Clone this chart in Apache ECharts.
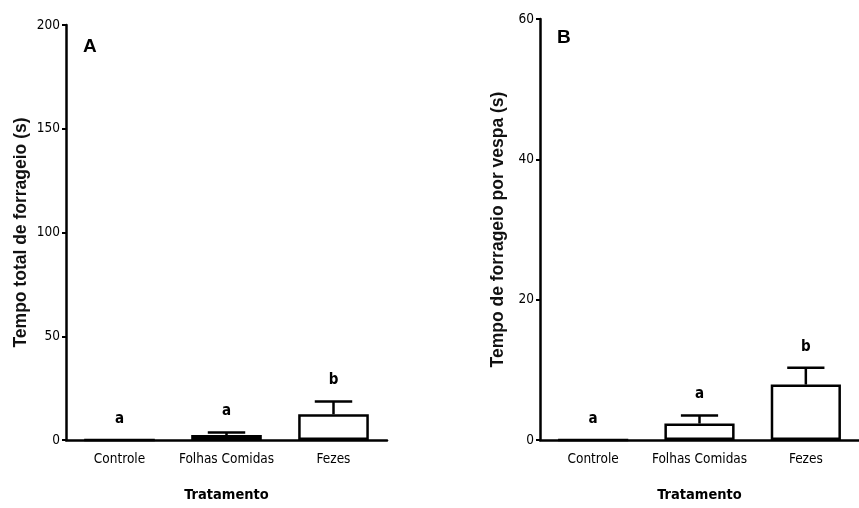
<!DOCTYPE html>
<html>
<head>
<meta charset="utf-8">
<script src="https://cdn.jsdelivr.net/npm/echarts@6/dist/echarts.min.js"></script>
<style>
html,body{margin:0;padding:0;background:#fff;}
#chart{width:859px;height:508px;}
</style>
</head>
<body>
<div id="chart"></div>
<script>
// ---- data ----
var categories = ['Controle', 'Folhas Comidas', 'Fezes'];
var totalMean = [0, 2.4, 12.4];
var totalErr = [0, 1.2, 6.2];
var totalLetters = ['a', 'a', 'b'];
var perWaspMean = [0, 2.35, 7.9];
var perWaspErr = [0, 1.15, 2.4];
var perWaspLetters = ['a', 'a', 'b'];
var yMaxA = 200, yStepA = 50;
var yMaxB = 60, yStepB = 20;
var panelLabels = ['A', 'B'];
var xTitle = 'Tratamento';
var yTitleA = 'Tempo total de forrageio (s)';
var yTitleB = 'Tempo de forrageio por vespa (s)';

var NARROW = '"DejaVu Sans Condensed", "Liberation Sans Narrow", sans-serif';
var SANS = '"Liberation Sans", Arial, sans-serif';

function errorSeries(idx, means, errs, letters) {
  var data = means.map(function (m, i) { return [i, m, errs[i]]; });
  return {
    type: 'custom',
    xAxisIndex: idx, yAxisIndex: idx,
    z: 5,
    data: data,
    encode: { x: 0, y: 1 },
    renderItem: function (params, api) {
      var i = api.value(0), m = api.value(1), e = api.value(2);
      var letter = letters[params.dataIndex];
      var pBase = api.coord([i, m]);
      var pTop = api.coord([i, m + e]);
      var band = api.size([1, 0])[0];
      var half = band * 0.175;
      var children = [];
      var st = { stroke: '#000', lineWidth: 2.5 };
      if (e > 0) {
        children.push({ type: 'line', shape: { x1: pTop[0], y1: pBase[1], x2: pTop[0], y2: pTop[1] }, style: st });
        children.push({ type: 'line', shape: { x1: pTop[0] - half, y1: pTop[1], x2: pTop[0] + half, y2: pTop[1] }, style: st });
      }
      children.push({
        type: 'text',
        x: pTop[0], y: pTop[1] - 21,
        style: { text: letter, fill: '#000', font: 'bold 15px ' + NARROW, align: 'center', verticalAlign: 'middle' }
      });
      return { type: 'group', children: children };
    }
  };
}

function barSeries(idx, means) {
  return {
    type: 'bar',
    xAxisIndex: idx, yAxisIndex: idx,
    data: means,
    barWidth: '66%',
    itemStyle: { color: '#fff', borderColor: '#000', borderWidth: 2.5 },
    silent: true,
    animation: false
  };
}

function xAxis(idx) {
  return {
    type: 'category', gridIndex: idx, data: categories,
    axisLine: { lineStyle: { color: '#000', width: 2.5 } },
    axisTick: { alignWithLabel: true, length: 6, lineStyle: { color: '#000', width: 2 } },
    axisLabel: { color: '#000', fontFamily: NARROW, fontSize: 13.5, margin: 12, interval: 0 },
    name: xTitle, nameLocation: 'middle', nameGap: 48,
    nameTextStyle: { color: '#000', fontFamily: NARROW, fontSize: 14.5, fontWeight: 'bold' }
  };
}

function yAxis(idx, max, step, title, gap) {
  return {
    type: 'value', gridIndex: idx, min: 0, max: max, interval: step,
    splitLine: { show: false },
    axisLine: { show: true, lineStyle: { color: '#000', width: 2.5 } },
    axisTick: { show: true, length: 4, lineStyle: { color: '#000', width: 2 } },
    axisLabel: { color: '#000', fontFamily: NARROW, fontSize: 13.5, margin: 6 },
    name: title, nameLocation: 'middle', nameGap: gap, nameRotate: 90,
    nameTextStyle: { color: '#111', fontFamily: SANS, fontSize: 17.5, fontWeight: 'bold' }
  };
}

var chart = echarts.init(document.getElementById('chart'));
chart.setOption({
  animation: false,
  backgroundColor: '#fff',
  title: [
    { text: panelLabels[0], left: 83, top: 37, padding: 0, textStyle: { fontFamily: SANS, fontSize: 19, fontWeight: 'bold', color: '#000' } },
    { text: panelLabels[1], left: 557, top: 28, padding: 0, textStyle: { fontFamily: SANS, fontSize: 19, fontWeight: 'bold', color: '#000' } }
  ],
  grid: [
    { left: 66, top: 25, width: 321, height: 419 },
    { left: 540, top: 19, width: 326, height: 425 }
  ],
  xAxis: [xAxis(0), xAxis(1)],
  yAxis: [yAxis(0, yMaxA, yStepA, yTitleA, 36), yAxis(1, yMaxB, yStepB, yTitleB, 33)],
  series: [
    barSeries(0, totalMean),
    errorSeries(0, totalMean, totalErr, totalLetters),
    barSeries(1, perWaspMean),
    errorSeries(1, perWaspMean, perWaspErr, perWaspLetters)
  ]
});
</script>
</body>
</html>
